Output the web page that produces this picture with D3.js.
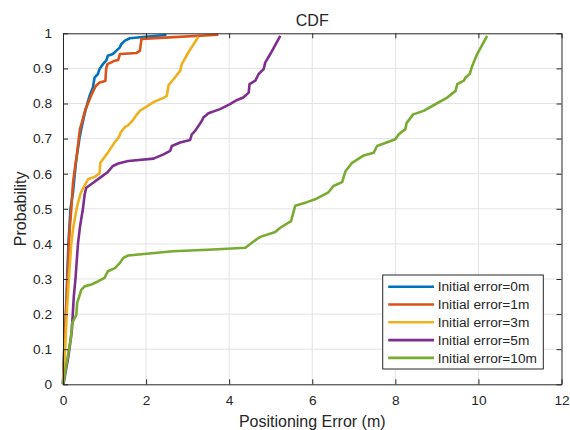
<!DOCTYPE html>
<html lang="en">
<head>
<meta charset="UTF-8">
<title>CDF</title>
<script src="https://cdn.jsdelivr.net/npm/d3@7/dist/d3.min.js"></script>
<style>
    body { margin: 0; background: #fff; }
    svg { display: block; }
    text { font-family: "Liberation Sans", Arial, sans-serif; fill: #262626; }
    .grid line { stroke: #e3e3e3; stroke-width: 1; }
    .axis path, .axis line { stroke: #262626; }
</style>
</head>
<body>
<svg id="chart" width="570" height="430"></svg>
<script>
// error (m) / cumulative probability
const err0m = [[0,0],[0.03,0.1],[0.07,0.2],[0.1,0.3],[0.13,0.4],[0.18,0.5],[0.24,0.546],[0.27,0.584],
    [0.32,0.641],[0.4,0.703],[0.44,0.727],[0.51,0.765],[0.56,0.789],[0.64,0.822],[0.72,0.846],
    [0.76,0.874],[0.84,0.884],[0.88,0.898],[0.96,0.912],[1.04,0.922],[1.08,0.936],[1.2,0.941],
    [1.28,0.95],[1.37,0.96],[1.4,0.969],[1.49,0.979],[1.61,0.986],[2.05,0.991],[2.49,0.995]]
const err1m = [[0,0],[0.03,0.1],[0.07,0.2],[0.11,0.3],[0.14,0.4],[0.16,0.44],[0.2,0.5],[0.24,0.573],
    [0.28,0.61],[0.33,0.65],[0.38,0.7],[0.41,0.728],[0.48,0.757],[0.53,0.78],[0.6,0.8],[0.69,0.826],
    [0.79,0.85],[0.88,0.86],[1.02,0.864],[1.04,0.9],[1.07,0.912],[1.25,0.922],[1.33,0.924],
    [1.37,0.941],[1.77,0.944],[1.85,0.95],[1.89,0.984],[3.74,0.996]]
const err3m = [[0,0],[0.05,0.1],[0.09,0.2],[0.14,0.3],[0.2,0.4],[0.24,0.44],[0.28,0.469],[0.32,0.495],
    [0.36,0.517],[0.43,0.546],[0.52,0.566],[0.6,0.584],[0.76,0.591],[0.88,0.601],[0.9,0.631],
    [1.08,0.66],[1.24,0.689],[1.35,0.705],[1.39,0.718],[1.5,0.734],[1.56,0.737],[1.68,0.752],
    [1.76,0.766],[1.86,0.78],[2.02,0.792],[2.18,0.804],[2.42,0.816],[2.5,0.822],[2.54,0.852],
    [2.66,0.869],[2.82,0.893],[2.86,0.912],[3.02,0.946],[3.26,0.99]]
const err5m = [[0.01,0],[0.13,0.08],[0.21,0.15],[0.26,0.25],[0.3,0.3],[0.33,0.35],[0.36,0.4],
    [0.41,0.45],[0.48,0.5],[0.52,0.54],[0.56,0.56],[0.76,0.577],[0.92,0.591],[1.08,0.605],
    [1.2,0.622],[1.33,0.629],[1.57,0.636],[2.18,0.643],[2.42,0.655],[2.58,0.665],[2.62,0.679],
    [2.82,0.689],[3.06,0.696],[3.1,0.712],[3.18,0.722],[3.26,0.736],[3.34,0.75],[3.38,0.76],
    [3.5,0.772],[3.78,0.784],[4.02,0.798],[4.19,0.81],[4.34,0.817],[4.47,0.831],[4.49,0.855],
    [4.63,0.865],[4.71,0.884],[4.83,0.898],[4.87,0.917],[4.99,0.941],[5.23,0.993]]
const err10m = [[0,0],[0.19,0.131],[0.22,0.174],[0.32,0.198],[0.34,0.231],[0.44,0.269],[0.52,0.279],
    [0.68,0.284],[0.84,0.293],[1.0,0.303],[1.08,0.322],[1.25,0.331],[1.37,0.346],[1.45,0.36],
    [1.57,0.367],[2.01,0.372],[2.65,0.379],[3.61,0.384],[4.39,0.389],[4.67,0.414],[4.75,0.42],
    [5.11,0.434],[5.23,0.446],[5.49,0.465],[5.59,0.509],[5.87,0.519],[6.07,0.527],[6.39,0.547],
    [6.51,0.565],[6.72,0.576],[6.8,0.607],[6.96,0.631],[7.24,0.652],[7.48,0.66],[7.56,0.679],
    [8.0,0.698],[8.08,0.712],[8.24,0.727],[8.27,0.744],[8.43,0.769],[8.68,0.779],[8.92,0.795],
    [9.25,0.817],[9.45,0.836],[9.49,0.855],[9.65,0.865],[9.69,0.874],[9.79,0.884],[9.85,0.907],
    [9.97,0.941],[10.21,0.993]]

const seriesNames = ['Initial error=0m', 'Initial error=1m', 'Initial error=3m', 'Initial error=5m', 'Initial error=10m']
const seriesData = [err0m, err1m, err3m, err5m, err10m]
const colors = ['#0072BD', '#D95319', '#EDB120', '#7E2F8E', '#77AC30']
const xTicks = [0, 2, 4, 6, 8, 10, 12]
const yTicks = [0, 0.1, 0.2, 0.3, 0.4, 0.5, 0.6, 0.7, 0.8, 0.9, 1]

const svg = d3.select('#chart')
const mLeft = 63, mRight = 561.5, mTop = 33.3, mBottom = 384.3

const x = d3.scaleLinear().domain([0, 12]).range([mLeft, mRight])
const y = d3.scaleLinear().domain([0, 1]).range([mBottom, mTop])

// grid
const grid = svg.append('g').attr('class', 'grid')
grid.selectAll('.gx').data(xTicks.slice(1, -1)).enter().append('line')
    .attr('x1', d => x(d)).attr('x2', d => x(d)).attr('y1', mTop).attr('y2', mBottom)
grid.selectAll('.gy').data(yTicks.slice(1, -1)).enter().append('line')
    .attr('x1', mLeft).attr('x2', mRight).attr('y1', d => y(d)).attr('y2', d => y(d))

// curves
const line = d3.line().x(d => x(d[0])).y(d => y(d[1]))
const plot = svg.append('g')
seriesData.forEach((s, i) => {
    plot.append('path').datum(s)
        .attr('d', line)
        .attr('fill', 'none')
        .attr('stroke', colors[i])
        .attr('stroke-width', 2.6)
        .attr('stroke-linejoin', 'round')
})

// axes, ticks pointing inward on all four sides
const fmt = d => d3.format('')(d)
const ax = d3.axisBottom(x).tickValues(xTicks).tickSizeInner(-5).tickSizeOuter(0).tickPadding(11).tickFormat(fmt)
const ay = d3.axisLeft(y).tickValues(yTicks).tickSizeInner(-5).tickSizeOuter(0).tickPadding(11).tickFormat(fmt)
const axTop = d3.axisTop(x).tickValues(xTicks).tickSizeInner(-5).tickSizeOuter(0).tickFormat('')
const ayRight = d3.axisRight(y).tickValues(yTicks).tickSizeInner(-5).tickSizeOuter(0).tickFormat('')

svg.append('g').attr('class', 'axis').attr('transform', `translate(0,${mBottom})`).call(ax)
svg.append('g').attr('class', 'axis').attr('transform', `translate(${mLeft},0)`).call(ay)
svg.append('g').attr('class', 'axis').attr('transform', `translate(0,${mTop})`).call(axTop)
svg.append('g').attr('class', 'axis').attr('transform', `translate(${mRight},0)`).call(ayRight)
svg.selectAll('.axis text').style('font-size', '13.7px').style('font-family', '"Liberation Sans", Arial, sans-serif').attr('fill', '#262626')

// title and labels
svg.append('text').attr('x', (mLeft + mRight) / 2).attr('y', 26).attr('text-anchor', 'middle')
    .style('font-size', '16px').text('CDF')
svg.append('text').attr('x', (mLeft + mRight) / 2).attr('y', 426.5).attr('text-anchor', 'middle')
    .style('font-size', '16px').text('Positioning Error (m)')
svg.append('text').attr('transform', `translate(26,${(mTop + mBottom) / 2}) rotate(-90)`)
    .attr('text-anchor', 'middle').style('font-size', '16px').text('Probability')

// legend
const lg = svg.append('g').attr('transform', 'translate(382.7,275)')
lg.append('rect').attr('width', 160.6).attr('height', 94)
    .attr('fill', '#fff').attr('stroke', '#262626').attr('stroke-width', 1)
seriesNames.forEach((name, i) => {
    const cy = 11.7 + i * 17.8
    lg.append('line').attr('x1', 5.5).attr('x2', 51.3).attr('y1', cy).attr('y2', cy)
        .attr('stroke', colors[i]).attr('stroke-width', 2.6)
    lg.append('text').attr('x', 55).attr('y', cy).attr('dy', '0.35em')
        .style('font-size', '13.7px').text(name)
})
</script>
</body>
</html>
